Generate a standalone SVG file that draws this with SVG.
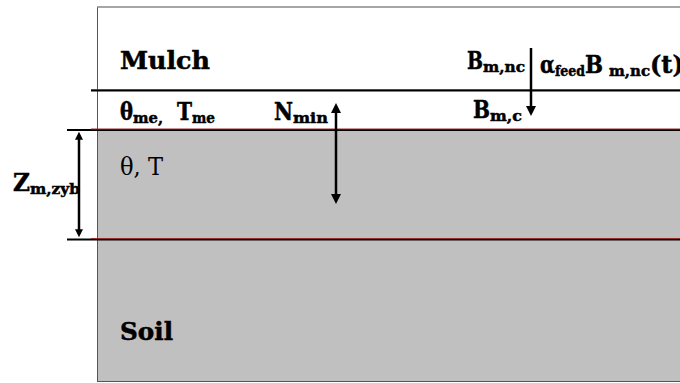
<svg xmlns="http://www.w3.org/2000/svg" width="680" height="383" viewBox="0 0 680 383">
<defs>
<style>
.b{font-family:"DejaVu Serif","Liberation Serif",serif;font-weight:bold;fill:#000;stroke:#000;stroke-width:0.5}
.r{font-family:"DejaVu Serif","Liberation Serif",serif;font-weight:normal;fill:#000}
.big{font-size:24px}
.sub{font-size:15px}
.lyr{stroke:#000;stroke-width:2}
.lyrr{stroke:#9a2a2a;stroke-width:1}
.arr{stroke:#000;stroke-width:2.5;fill:none}
</style>
<marker id="ah" viewBox="0 0 10 10" refX="6" refY="5" markerWidth="11" markerHeight="10" markerUnits="userSpaceOnUse" orient="auto-start-reverse">
<path d="M0,0 L10,5 L0,10 z" fill="#000"/>
</marker>
<marker id="ahs" viewBox="0 0 10 10" refX="6" refY="5" markerWidth="9" markerHeight="8" markerUnits="userSpaceOnUse" orient="auto-start-reverse">
<path d="M0,0 L10,5 L0,10 z" fill="#000"/>
</marker>
</defs>
<rect x="0" y="0" width="680" height="383" fill="#fff"/>
<g id="frame">
<rect x="98" y="130" width="584" height="252" fill="#c0c0c0"/>
<line x1="97.5" y1="7" x2="97.5" y2="382" stroke="#555" stroke-width="1"/>
<line x1="97" y1="7" x2="682" y2="7" stroke="#888" stroke-width="1.5"/>
<line x1="97" y1="381.5" x2="682" y2="381.5" stroke="#555" stroke-width="1"/>
</g>
<g id="boundaries">
<line class="lyr" x1="91" y1="90.5" x2="680" y2="90.5"/>
<line class="lyrr" x1="91" y1="89.5" x2="680" y2="89.5"/>
<line class="lyr" x1="67" y1="130" x2="680" y2="130"/>
<line class="lyrr" x1="91" y1="129" x2="680" y2="129"/>
<line class="lyr" x1="67" y1="239.5" x2="680" y2="239.5"/>
<line class="lyrr" x1="91" y1="238.5" x2="680" y2="238.5"/>
</g>
<g id="mulch">
<text class="b big" x="120" y="69" textLength="90" lengthAdjust="spacingAndGlyphs">Mulch</text>
</g>
<g id="mulch-state">
<text class="b big" x="120" y="120"><tspan textLength="13" lengthAdjust="spacingAndGlyphs">θ</tspan><tspan class="sub" x="133" y="123" textLength="30" lengthAdjust="spacingAndGlyphs">me,</tspan><tspan x="177" y="120" textLength="15" lengthAdjust="spacingAndGlyphs">T</tspan><tspan class="sub" x="192" y="123" textLength="23" lengthAdjust="spacingAndGlyphs">me</tspan></text>
</g>
<g id="nmin">
<text class="b big" x="274" y="120"><tspan textLength="19" lengthAdjust="spacingAndGlyphs">N</tspan><tspan class="sub" x="293" y="123" textLength="35" lengthAdjust="spacingAndGlyphs">min</tspan></text>
</g>
<g id="bmnc">
<text class="b big" x="467" y="69"><tspan textLength="16" lengthAdjust="spacingAndGlyphs">B</tspan><tspan class="sub" x="483" y="72" textLength="42" lengthAdjust="spacingAndGlyphs">m,nc</tspan></text>
</g>
<g id="feed">
<text class="b big" x="540" y="73"><tspan textLength="15" lengthAdjust="spacingAndGlyphs">α</tspan><tspan class="sub" x="555" y="76" textLength="30" lengthAdjust="spacingAndGlyphs">feed</tspan><tspan x="585" y="73" textLength="18" lengthAdjust="spacingAndGlyphs">B</tspan><tspan class="sub" x="609" y="76" textLength="41" lengthAdjust="spacingAndGlyphs">m,nc</tspan><tspan x="650" y="73">(t)</tspan></text>
</g>
<g id="bmc">
<text class="b big" x="473" y="118"><tspan textLength="17" lengthAdjust="spacingAndGlyphs">B</tspan><tspan class="sub" x="490" y="121" textLength="32" lengthAdjust="spacingAndGlyphs">m,c</tspan></text>
</g>
<g id="soil-state">
<text class="r big" x="120" y="175" textLength="43" lengthAdjust="spacingAndGlyphs">θ, T</text>
</g>
<g id="zdepth">
<text class="b big" x="13" y="191"><tspan textLength="17" lengthAdjust="spacingAndGlyphs">Z</tspan><tspan class="sub" x="30" y="194" textLength="50" lengthAdjust="spacingAndGlyphs">m,zyb</tspan></text>
</g>
<g id="soil">
<text class="b big" x="120" y="340" textLength="53" lengthAdjust="spacingAndGlyphs">Soil</text>
</g>
<g id="connectors">
<line class="arr" x1="79" y1="135" x2="79" y2="234" marker-start="url(#ahs)" marker-end="url(#ahs)"/>
<line class="arr" x1="336" y1="107" x2="336" y2="200" marker-start="url(#ah)" marker-end="url(#ah)"/>
<line class="arr" x1="531" y1="48" x2="531" y2="112" marker-end="url(#ah)"/>
</g>
</svg>
